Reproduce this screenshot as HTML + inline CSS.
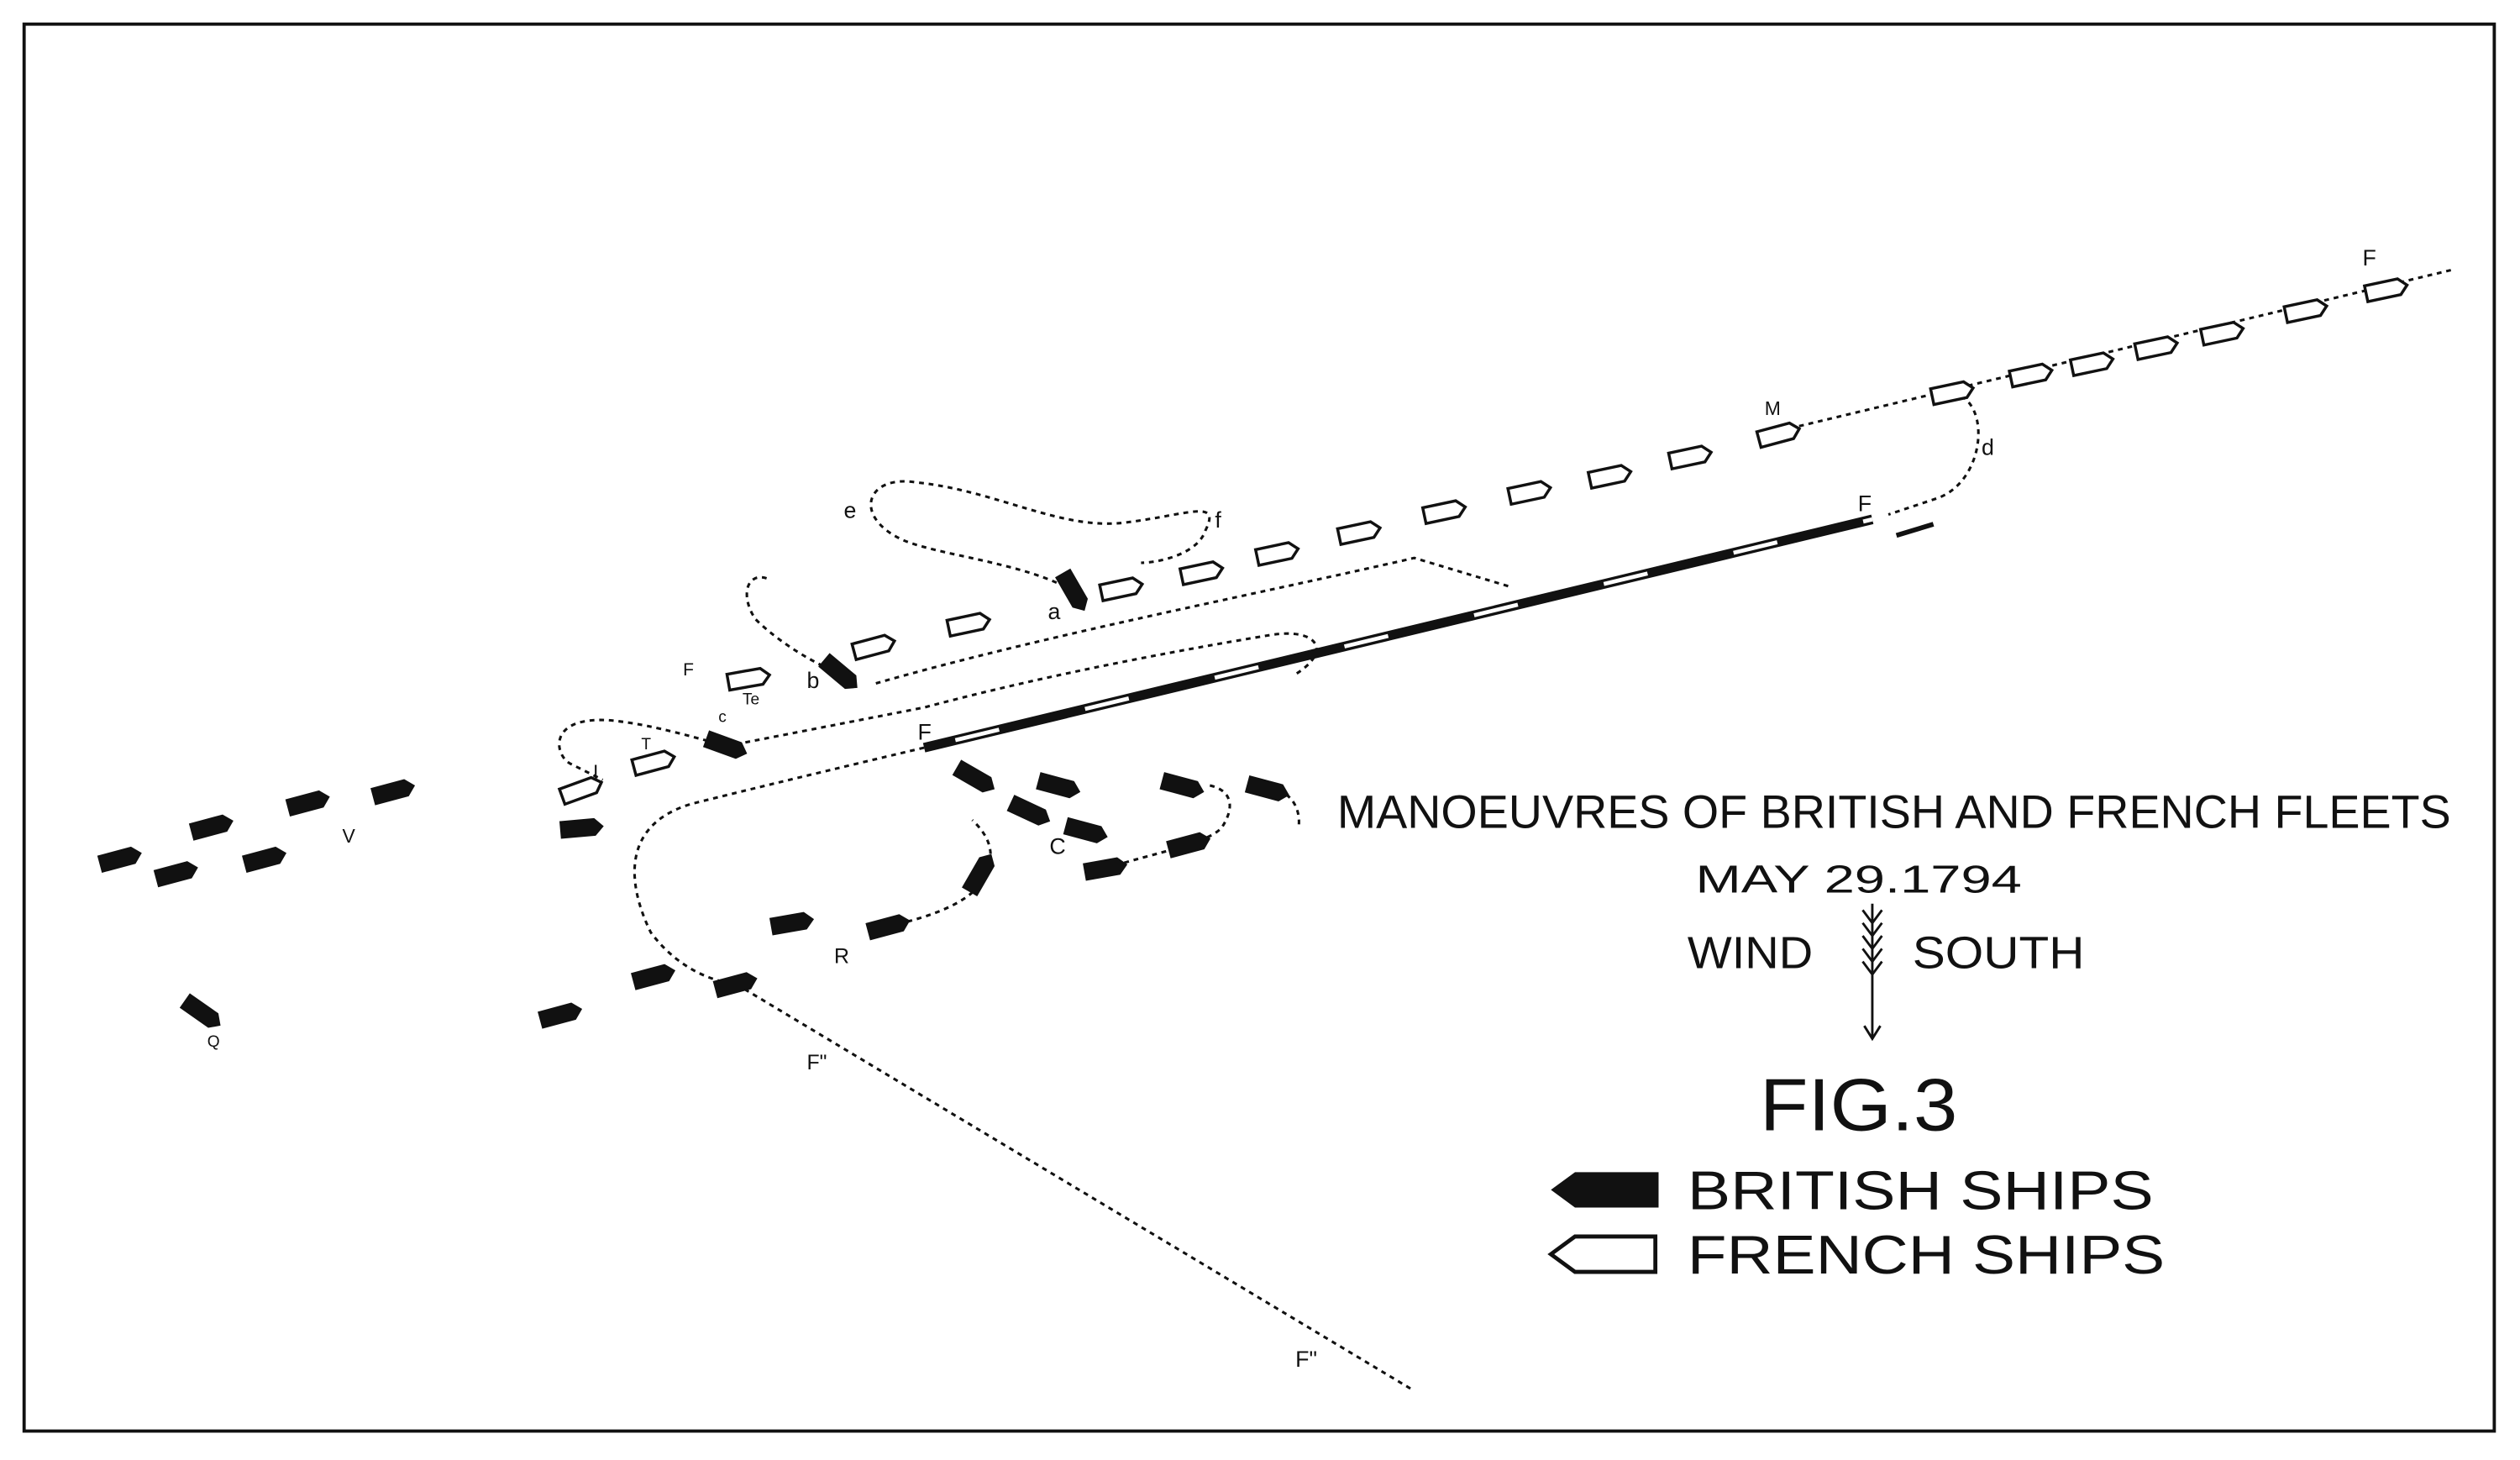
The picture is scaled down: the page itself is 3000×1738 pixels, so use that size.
<!DOCTYPE html>
<html><head><meta charset="utf-8"><style>
html,body{margin:0;padding:0;background:#fff;}
svg{display:block;}
text{font-family:"Liberation Sans",sans-serif;fill:#111;}
</style></head><body>
<svg width="3000" height="1738" viewBox="0 0 1568 908" preserveAspectRatio="none" xmlns="http://www.w3.org/2000/svg">
<defs>
<path id="sh" d="M-13,-5 L8,-5 L13,0 L8,5 L-13,5 Z"/>
</defs>
<rect x="0" y="0" width="1568" height="908" fill="#fff"/>
<rect x="15" y="15" width="1537" height="875" fill="none" stroke="#111" stroke-width="2"/>

<g fill="none" stroke="#111" stroke-width="1.6" stroke-dasharray="3,3">
<path d="M1525,168 L1107,268"/>
<path d="M1215,244 C1240,250 1235,300 1205,310 L1175,320"/>
<path d="M668,368 C640,350 580,345 560,335 C530,320 540,295 570,300 C620,305 660,330 700,325 C740,320 760,310 750,330 C745,345 720,350 710,350"/>
<path d="M523,419 C500,410 480,395 470,385 C460,370 465,355 478,360"/>
<path d="M545,425 C650,395 780,370 880,347 L940,365"/>
<path d="M452,464 C420,455 400,450 380,448 C340,445 345,470 355,475 L375,485"/>
<path d="M452,464 L575,440 C650,420 730,405 790,395 C820,390 830,405 805,420"/>
<path d="M575,465 C520,478 470,490 430,500 C380,515 395,560 405,580 C420,600 440,610 458,612 L880,865"/>
<path d="M553,576 C580,570 610,560 615,540 C620,525 610,515 605,510"/>
<path d="M688,540 C720,530 750,525 760,515 C770,500 765,490 750,488"/>
<path d="M789,491 C800,490 810,500 808,515"/>
</g>

<line x1="575" y1="465" x2="1165" y2="323" stroke="#111" stroke-width="6"/>
<line x1="575" y1="465" x2="1165" y2="323" stroke="#fff" stroke-width="2.5" stroke-dasharray="28,55" stroke-dashoffset="-20"/>
<line x1="1180" y1="333" x2="1203" y2="326" stroke="#111" stroke-width="3"/>

<g fill="#fff" stroke="#111" stroke-width="1.8">
<use href="#sh" transform="translate(1485,180) rotate(-12)"/>
<use href="#sh" transform="translate(1435,193) rotate(-12)"/>
<use href="#sh" transform="translate(1383,207) rotate(-12)"/>
<use href="#sh" transform="translate(1342,216) rotate(-12)"/>
<use href="#sh" transform="translate(1302,226) rotate(-12)"/>
<use href="#sh" transform="translate(1264,233) rotate(-12)"/>
<use href="#sh" transform="translate(1215,244) rotate(-12)"/>
<use href="#sh" transform="translate(1107,270) rotate(-15)"/>
<use href="#sh" transform="translate(1052,284) rotate(-12)"/>
<use href="#sh" transform="translate(1002,296) rotate(-12)"/>
<use href="#sh" transform="translate(952,306) rotate(-12)"/>
<use href="#sh" transform="translate(899,318) rotate(-12)"/>
<use href="#sh" transform="translate(846,331) rotate(-12)"/>
<use href="#sh" transform="translate(795,344) rotate(-12)"/>
<use href="#sh" transform="translate(748,356) rotate(-12)"/>
<use href="#sh" transform="translate(698,366) rotate(-12)"/>
<use href="#sh" transform="translate(603,388) rotate(-12)"/>
<use href="#sh" transform="translate(544,402) rotate(-15)"/>
<use href="#sh" transform="translate(466,422) rotate(-10)"/>
<use href="#sh" transform="translate(407,474) rotate(-15)"/>
<use href="#sh" transform="translate(362,491) rotate(-20)"/>
</g>

<g fill="#111" stroke="#111" stroke-width="1">
<use href="#sh" transform="translate(668,368) rotate(60)"/>
<use href="#sh" transform="translate(523,419) rotate(40)"/>
<use href="#sh" transform="translate(452,464) rotate(20)"/>
<use href="#sh" transform="translate(607,484) rotate(30)"/>
<use href="#sh" transform="translate(659,489) rotate(15)"/>
<use href="#sh" transform="translate(641,505) rotate(25)"/>
<use href="#sh" transform="translate(676,517) rotate(15)"/>
<use href="#sh" transform="translate(736,489) rotate(15)"/>
<use href="#sh" transform="translate(789,491) rotate(15)"/>
<use href="#sh" transform="translate(688,540) rotate(-10)"/>
<use href="#sh" transform="translate(740,525) rotate(-15)"/>
<use href="#sh" transform="translate(610,543) rotate(-60)"/>
<use href="#sh" transform="translate(553,576) rotate(-15)"/>
<use href="#sh" transform="translate(493,574) rotate(-10)"/>
<use href="#sh" transform="translate(407,607) rotate(-15)"/>
<use href="#sh" transform="translate(458,612) rotate(-15)"/>
<use href="#sh" transform="translate(349,631) rotate(-15)"/>
<use href="#sh" transform="translate(126,630) rotate(35)"/>
<use href="#sh" transform="translate(362,515) rotate(-5)"/>
<use href="#sh" transform="translate(245,492) rotate(-15)"/>
<use href="#sh" transform="translate(192,499) rotate(-15)"/>
<use href="#sh" transform="translate(132,514) rotate(-15)"/>
<use href="#sh" transform="translate(75,534) rotate(-15)"/>
<use href="#sh" transform="translate(110,543) rotate(-15)"/>
<use href="#sh" transform="translate(165,534) rotate(-15)"/>
</g>

<g font-size="14">
<text x="1470" y="165">F</text>
<text x="1098" y="258" font-size="12">M</text>
<text x="1233" y="283">d</text>
<text x="1156" y="318">F</text>
<text x="525" y="322">e</text>
<text x="756" y="328">f</text>
<text x="652" y="385">a</text>
<text x="502" y="428">b</text>
<text x="425" y="420" font-size="11">F</text>
<text x="447" y="449" font-size="10">c</text>
<text x="462" y="438" font-size="10">Te</text>
<text x="399" y="466" font-size="10">T</text>
<text x="369" y="484" font-size="12">I</text>
<text x="571" y="460">F</text>
<text x="213" y="524" font-size="12">V</text>
<text x="653" y="531">C</text>
<text x="519" y="599" font-size="13">R</text>
<text x="129" y="651" font-size="10">Q</text>
<text x="502" y="665" font-size="13">F"</text>
<text x="806" y="850">F"</text>
</g>

<text x="832" y="515" font-size="29" textLength="693" lengthAdjust="spacingAndGlyphs">MANOEUVRES OF BRITISH AND FRENCH FLEETS</text>
<text x="1055" y="555" font-size="24" textLength="203" lengthAdjust="spacingAndGlyphs">MAY 29.1794</text>
<text x="1050" y="602" font-size="28" textLength="78" lengthAdjust="spacingAndGlyphs">WIND</text>
<text x="1190" y="602" font-size="28" textLength="107" lengthAdjust="spacingAndGlyphs">SOUTH</text>
<g stroke="#111" stroke-width="1.5" fill="none">
<line x1="1165" y1="562" x2="1165" y2="645"/>
<path d="M1160,638 L1165,646 L1170,638"/>
<path d="M1159,566 L1165,574 L1171,566 M1159,574 L1165,582 L1171,574 M1159,582 L1165,590 L1171,582 M1159,590 L1165,598 L1171,590 M1159,598 L1165,606 L1171,598"/>
</g>
<text x="1095" y="703" font-size="46" textLength="123" lengthAdjust="spacingAndGlyphs">FIG.3</text>
<path d="M965,740 L980,729 L1032,729 L1032,751 L980,751 Z" fill="#111"/>
<path d="M965,780 L980,769 L1030,769 L1030,791 L980,791 Z" fill="#fff" stroke="#111" stroke-width="2.5"/>
<text x="1050" y="752" font-size="34" textLength="290" lengthAdjust="spacingAndGlyphs">BRITISH SHIPS</text>
<text x="1050" y="792" font-size="34" textLength="297" lengthAdjust="spacingAndGlyphs">FRENCH SHIPS</text>
</svg>
</body></html>
